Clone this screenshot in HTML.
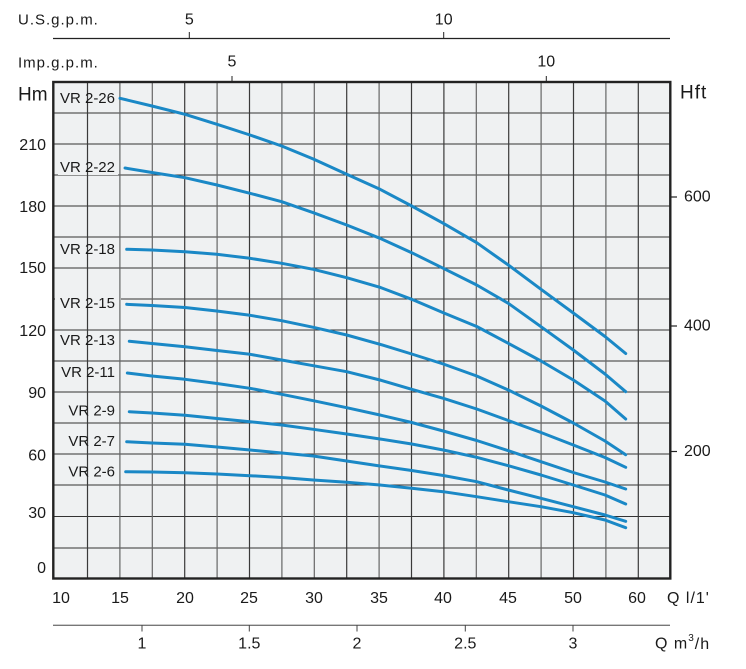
<!DOCTYPE html>
<html><head><meta charset="utf-8"><style>
html,body{margin:0;padding:0;background:#fff;}
svg{display:block;}
text{font-family:"Liberation Sans",sans-serif;fill:#1a1a1a;}
</style></head><body>
<svg width="746" height="669" viewBox="0 0 746 669" xmlns="http://www.w3.org/2000/svg">
<!-- top axes -->
<text x="18" y="20" font-size="15" letter-spacing="1" dominant-baseline="central">U.S.g.p.m.</text>
<text x="189.3" y="20" font-size="16" text-anchor="middle" dominant-baseline="central">5</text>
<text x="443.7" y="20" font-size="16" text-anchor="middle" dominant-baseline="central">10</text>
<line x1="53" y1="38.5" x2="670" y2="38.5" stroke="#222" stroke-width="1.3"/>
<line x1="189.3" y1="32" x2="189.3" y2="38.5" stroke="#222" stroke-width="1"/>
<line x1="443.7" y1="32" x2="443.7" y2="38.5" stroke="#222" stroke-width="1"/>

<text x="18" y="63" font-size="15" letter-spacing="1" dominant-baseline="central">Imp.g.p.m.</text>
<text x="232" y="62" font-size="16" text-anchor="middle" dominant-baseline="central">5</text>
<text x="546.3" y="62" font-size="16" text-anchor="middle" dominant-baseline="central">10</text>
<line x1="232" y1="76" x2="232" y2="82" stroke="#222" stroke-width="1"/>
<line x1="546.3" y1="76" x2="546.3" y2="82" stroke="#222" stroke-width="1"/>

<!-- plot bg -->
<rect x="53.3" y="82" width="617" height="496.5" fill="#eff1f2"/>
<!-- horizontal grid -->
<g stroke="#333" stroke-width="1.1">
<line x1="53" y1="113" x2="670" y2="113"/>
<line x1="53" y1="144" x2="670" y2="144"/>
<line x1="53" y1="175" x2="670" y2="175"/>
<line x1="53" y1="206" x2="670" y2="206"/>
<line x1="53" y1="237" x2="670" y2="237"/>
<line x1="53" y1="268" x2="670" y2="268"/>
<line x1="53" y1="299" x2="670" y2="299"/>
<line x1="53" y1="330" x2="670" y2="330"/>
<line x1="53" y1="361" x2="670" y2="361"/>
<line x1="53" y1="392" x2="670" y2="392"/>
<line x1="53" y1="423" x2="670" y2="423"/>
<line x1="53" y1="454" x2="670" y2="454"/>
<line x1="53" y1="485" x2="670" y2="485"/>
<line x1="53" y1="516.5" x2="670" y2="516.5"/>
<line x1="53" y1="548" x2="670" y2="548"/>
</g>
<!-- label backgrounds -->
<g fill="#eff1f2">
<rect x="58" y="91" width="60" height="15"/>
<rect x="58" y="160" width="60" height="15"/>
<rect x="58" y="242" width="60" height="15"/>
<rect x="55" y="296" width="66" height="15"/>
<rect x="58" y="333" width="60" height="15"/>
<rect x="58" y="365" width="60" height="15"/>
<rect x="66" y="404" width="52" height="15"/>
<rect x="66" y="434" width="52" height="15"/>
<rect x="66" y="465" width="52" height="15"/>
</g>
<!-- vertical grid -->
<g stroke="#3a3a3a" stroke-width="1.2">
<line x1="87.5" y1="82" x2="87.5" y2="578"/>
<line x1="119.9" y1="82" x2="119.9" y2="578" stroke="#666"/>
<line x1="152.3" y1="82" x2="152.3" y2="578" stroke="#666"/>
<line x1="184.7" y1="82" x2="184.7" y2="578"/>
<line x1="217.1" y1="82" x2="217.1" y2="578" stroke="#666"/>
<line x1="249.5" y1="82" x2="249.5" y2="578"/>
<line x1="281.9" y1="82" x2="281.9" y2="578" stroke="#666"/>
<line x1="314.3" y1="82" x2="314.3" y2="578" stroke="#666"/>
<line x1="346.7" y1="82" x2="346.7" y2="578"/>
<line x1="379.1" y1="82" x2="379.1" y2="578" stroke="#666"/>
<line x1="411.5" y1="82" x2="411.5" y2="578"/>
<line x1="443.9" y1="82" x2="443.9" y2="578"/>
<line x1="476.3" y1="82" x2="476.3" y2="578" stroke="#666"/>
<line x1="508.7" y1="82" x2="508.7" y2="578"/>
<line x1="541.1" y1="82" x2="541.1" y2="578" stroke="#666"/>
<line x1="573.5" y1="82" x2="573.5" y2="578"/>
<line x1="605.9" y1="82" x2="605.9" y2="578" stroke="#666"/>
<line x1="638.3" y1="82" x2="638.3" y2="578"/>
</g>
<!-- border -->
<rect x="53.3" y="82" width="617" height="496.5" fill="none" stroke="#222" stroke-width="2.4"/>

<!-- curves -->
<g fill="none" stroke="#1a88c6" stroke-width="3" stroke-linejoin="round" stroke-linecap="round">
<polyline points="120,98.3 152,106 185,114.3 217,124.3 250,135 281.7,146 313.3,159 346.7,174.3 380,189.3 411.7,206 443.3,223.3 476.7,242.7 508.3,265 541,289.3 573.3,313 605,336.5 625.7,353.5"/>
<polyline points="125,168 152,172.5 185,177.7 217,185 250,193.3 281.7,201.7 313.3,212.7 346.7,225 380,238.3 411.7,252.7 443.3,268.3 476.7,285 508.3,303.3 541,326.7 573.3,350 605,374 625.7,391.7"/>
<polyline points="126.7,249.3 152,250 185,251.7 216.7,254.3 250,258.3 281.7,263.3 313.3,269.3 346.7,277.7 380,287.3 411.7,299.3 443.3,312.7 476.7,326.5 508.3,343.3 541,361 573.3,380 605,401 625.7,419"/>
<polyline points="126.7,304.3 152,305.5 185,307.5 216.7,311 250,315.3 281.7,320.7 313.3,327.3 346.7,335 380,344.3 411.7,354 443.3,364 476.7,376 508.3,390 541,406 573.3,423 605,441 625.7,454.7"/>
<polyline points="129.3,341.3 152,343.5 185,346.7 217,350.5 250,354.3 281.7,360 313.3,365.7 346.7,371.7 380,380 411.7,389.3 443.3,398.3 476.7,409 508.3,420.5 541,432.5 573.3,445 605,457.5 625.7,467.3"/>
<polyline points="127.3,373 152,376 185,379.3 217,383.5 250,388.3 281.7,394.3 313.3,400.7 346.7,407.7 380,415 411.7,422.5 443.3,431 476.7,440.5 508.3,450.7 541,461.7 573.3,472.5 605,482 625.7,489"/>
<polyline points="129.3,411.7 152,413 185,415.3 217,418.5 250,421.7 281.7,425 313.3,429.3 346.7,434 380,439 411.7,444 443.3,450 476.7,457.3 508.3,465.7 541,475 573.3,485 605,495 625.7,504"/>
<polyline points="126.7,441.7 152,443 185,444.3 217,447 250,450 281.7,453 313.3,456 346.7,461 380,466 411.7,470.5 443.3,475.5 476.7,481.7 508.3,490 541,498.3 573.3,506.7 605,515 625.7,521.3"/>
<polyline points="125.7,471.7 152,472 185,472.7 217,474 250,475.7 281.7,477.5 313.3,480 346.7,482.3 380,485 411.7,488.3 443.3,491.7 476.7,496.7 508.3,501.7 541,506.7 573.3,512.7 605,520 625.7,527.7"/>
</g>

<!-- curve labels -->
<g font-size="15" text-anchor="end">
<text x="115" y="98.5" dominant-baseline="central">VR 2-26</text>
<text x="115" y="167.5" dominant-baseline="central">VR 2-22</text>
<text x="115" y="249.5" dominant-baseline="central">VR 2-18</text>
<text x="115" y="303.5" dominant-baseline="central">VR 2-15</text>
<text x="115" y="340.5" dominant-baseline="central">VR 2-13</text>
<text x="115" y="372.5" dominant-baseline="central">VR 2-11</text>
<text x="115" y="411" dominant-baseline="central">VR 2-9</text>
<text x="115" y="441.5" dominant-baseline="central">VR 2-7</text>
<text x="115" y="472" dominant-baseline="central">VR 2-6</text>
</g>

<!-- left axis -->
<text x="18" y="95" font-size="19" dominant-baseline="central">Hm</text>
<g font-size="16" text-anchor="end">
<text x="46" y="145.7" dominant-baseline="central">210</text>
<text x="46" y="207.3" dominant-baseline="central">180</text>
<text x="46" y="268.3" dominant-baseline="central">150</text>
<text x="46" y="331.7" dominant-baseline="central">120</text>
<text x="46" y="393.3" dominant-baseline="central">90</text>
<text x="46" y="456" dominant-baseline="central">60</text>
<text x="46" y="513.3" dominant-baseline="central">30</text>
<text x="46" y="568.3" dominant-baseline="central">0</text>
</g>

<!-- right axis -->
<text x="680" y="93" font-size="19" letter-spacing="1" dominant-baseline="central">Hft</text>
<g stroke="#222" stroke-width="1.2">
<line x1="670" y1="197" x2="677" y2="197"/>
<line x1="670" y1="326" x2="677" y2="326"/>
<line x1="670" y1="451.5" x2="677" y2="451.5"/>
</g>
<g font-size="16">
<text x="684" y="197" dominant-baseline="central">600</text>
<text x="684" y="326" dominant-baseline="central">400</text>
<text x="684" y="451.5" dominant-baseline="central">200</text>
</g>

<!-- bottom axis l/1' -->
<g font-size="16" text-anchor="middle">
<text x="61" y="598.5" dominant-baseline="central">10</text>
<text x="120" y="598.5" dominant-baseline="central">15</text>
<text x="185" y="598.5" dominant-baseline="central">20</text>
<text x="249" y="598.5" dominant-baseline="central">25</text>
<text x="314" y="598.5" dominant-baseline="central">30</text>
<text x="379" y="598.5" dominant-baseline="central">35</text>
<text x="443" y="598.5" dominant-baseline="central">40</text>
<text x="508" y="598.5" dominant-baseline="central">45</text>
<text x="573" y="598.5" dominant-baseline="central">50</text>
<text x="637" y="598.5" dominant-baseline="central">60</text>
</g>
<text x="667" y="598.5" font-size="16" letter-spacing="1" dominant-baseline="central">Q l/1'</text>

<!-- bottom axis m3/h -->
<line x1="53" y1="625.3" x2="670" y2="625.3" stroke="#777" stroke-width="1.3"/>
<g stroke="#444" stroke-width="1">
<line x1="142" y1="625" x2="142" y2="631.5"/>
<line x1="249.3" y1="625" x2="249.3" y2="631.5"/>
<line x1="357" y1="625" x2="357" y2="631.5"/>
<line x1="465.3" y1="625" x2="465.3" y2="631.5"/>
<line x1="573" y1="625" x2="573" y2="631.5"/>
</g>
<g font-size="16" text-anchor="middle">
<text x="142" y="644" dominant-baseline="central">1</text>
<text x="249.3" y="644" dominant-baseline="central">1.5</text>
<text x="357" y="644" dominant-baseline="central">2</text>
<text x="465.3" y="644" dominant-baseline="central">2.5</text>
<text x="573" y="644" dominant-baseline="central">3</text>
</g>
<text x="655" y="644" font-size="16" letter-spacing="1" dominant-baseline="central">Q m<tspan font-size="10" dy="-6">3</tspan><tspan dy="6">/h</tspan></text>
</svg>
</body></html>
